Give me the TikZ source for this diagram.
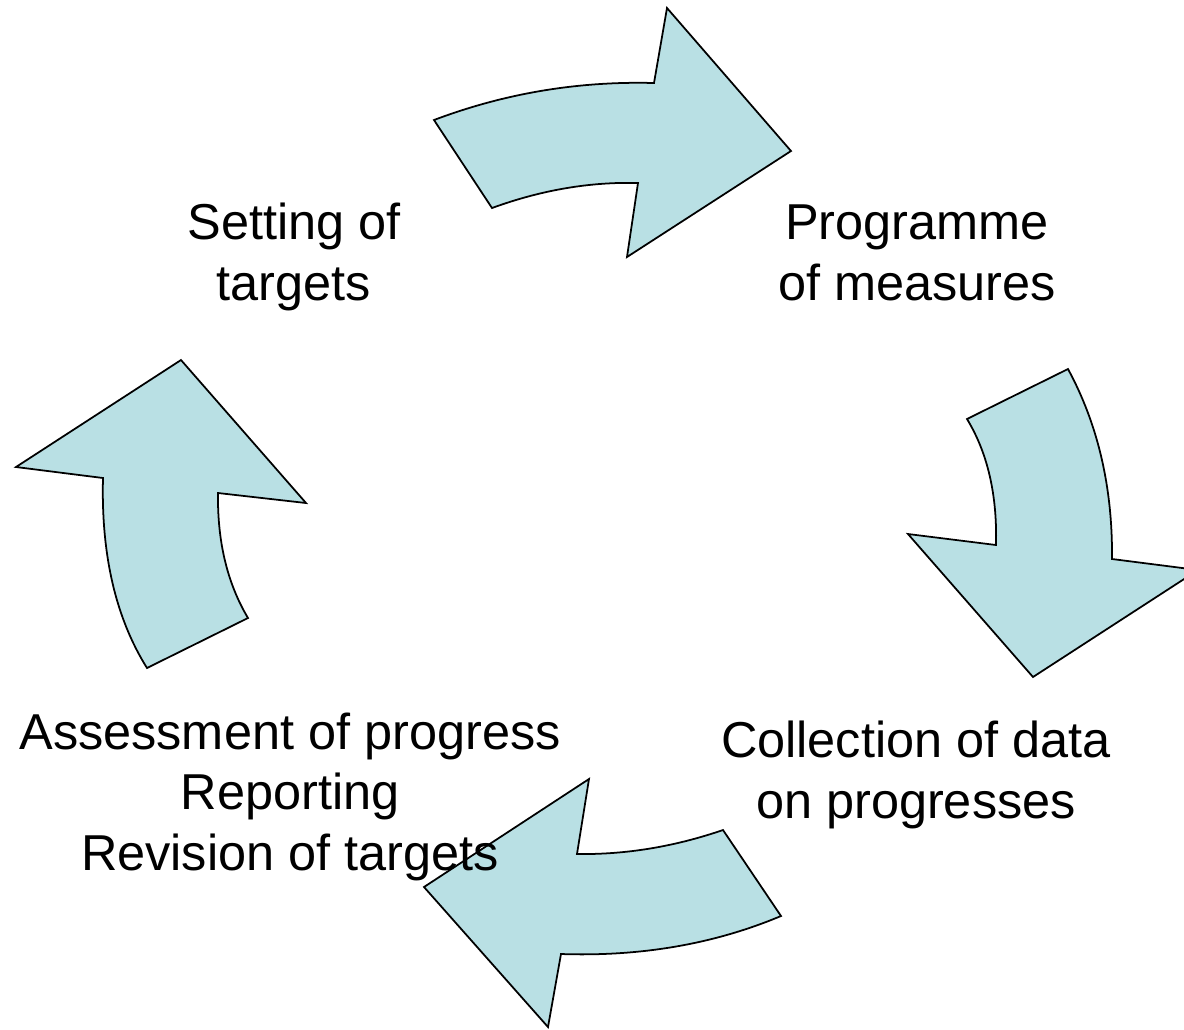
\documentclass[tikz,border=0pt]{standalone}
\usepackage{fontspec}
\setmainfont{Liberation Sans}
\definecolor{arrowfill}{RGB}{185,224,228}
\begin{document}
\begin{tikzpicture}[x=0.01cm,y=-0.01cm,
    cyclearrow/.style={fill=arrowfill,draw=black,line width=0.5pt},
    stagetext/.style={align=center,anchor=base,font=\fontsize{14.35}{17.07}\selectfont}]
    \useasboundingbox (0,0) rectangle (1184,1029);
    \clip (0,0) rectangle (1184,1029);
    % top arrow
    \draw [cyclearrow] (434,120) .. controls (504.7,93.3) and (578,81) .. (654,83) -- (667,8) -- (791,151) -- (627,257) -- (638,183) .. controls (590,181.7) and (541.3,190) .. (492,208) -- cycle;
    % right arrow
    \draw [cyclearrow] (1068,369) .. controls (1098,424.3) and (1112.7,487.7) .. (1112,559) -- (1198,570) -- (1033,677) -- (908,534) -- (996,545) .. controls (997.3,495) and (987.7,453) .. (967,419) -- cycle;
    % bottom arrow
    \draw [cyclearrow] (781,916) .. controls (714.3,944) and (641,956.7) .. (561,954) -- (548,1027) -- (424,887) -- (589,779) -- (577,854) .. controls (625.7,854.7) and (674.3,846.7) .. (723,830) -- cycle;
    % left arrow
    \draw [cyclearrow] (147,668) .. controls (115.7,618) and (101,554.7) .. (103,478) -- (16,467) -- (181,360) -- (306,503) -- (218,493) .. controls (217.3,541.7) and (227.3,583.3) .. (248,618) -- cycle;
    % texts (anchored at the last baseline)
    \node [stagetext] (setting) at (294,300) {Setting of\\targets};
    \node [stagetext] (programme) at (917,300) {Programme\\of measures};
    \node [stagetext] (collection) at (916,818) {Collection of data\\on progresses};
    \node [stagetext] (assessment) at (290,870) {Assessment of progress\\Reporting\\Revision of targets};
\end{tikzpicture}
\end{document}
